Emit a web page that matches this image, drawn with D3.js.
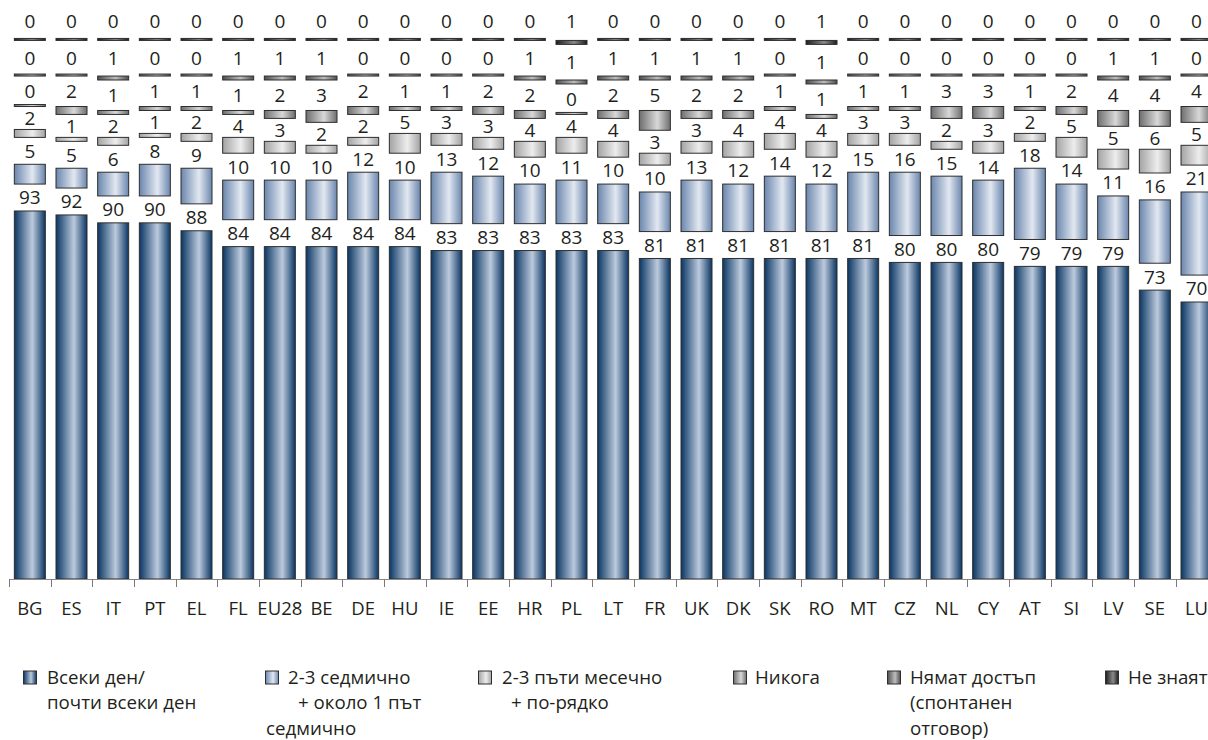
<!DOCTYPE html>
<html>
<head>
<meta charset="utf-8">
<script src="https://cdn.jsdelivr.net/npm/d3@7"></script>
<style>
  html, body { margin: 0; padding: 0; background: #fff; }
  svg { display: block; font-family: "Open Sans", "Noto Sans", sans-serif; }
</style>
</head>
<body>
<svg id="chart" width="1208" height="740"></svg>
<script>
// Countries, ordered by daily use
const categories = ["BG","ES","IT","PT","EL","FL","EU28","BE","DE","HU","IE","EE","HR","PL","LT",
  "FR","UK","DK","SK","RO","MT","CZ","NL","CY","AT","SI","LV","SE","LU"];

// Shares (%) for each answer, one value per country
const daily    = [93,92,90,90,88,84,84,84,84,84,83,83,83,83,83,81,81,81,81,81,81,80,80,80,79,79,79,73,70];
const weekly   = [5,5,6,8,9,10,10,10,12,10,13,12,10,11,10,10,13,12,14,12,15,16,15,14,18,14,11,16,21];
const monthly  = [2,1,2,1,2,4,3,2,2,5,3,3,4,4,4,3,3,4,4,4,3,3,2,3,2,5,5,6,5];
const never    = [0,2,1,1,1,1,2,3,2,1,1,2,2,0,2,5,2,2,1,1,1,1,3,3,1,2,4,4,4];
const noAccess = [0,0,1,0,0,1,1,1,0,0,0,0,1,1,1,1,1,1,0,1,0,0,0,0,0,0,1,1,0];
const dontKnow = [0,0,0,0,0,0,0,0,0,0,0,0,0,1,0,0,0,0,0,1,0,0,0,0,0,0,0,0,0];

const seriesNames = [
  ["Всеки ден/", "почти всеки ден"],
  ["2-3 седмично", "+ около 1 път", "седмично"],
  ["2-3 пъти месечно", "+ по-рядко"],
  ["Никога"],
  ["Нямат достъп", "(спонтанен", "отговор)"],
  ["Не знаят"]
];
const seriesValues = [daily, weekly, monthly, never, noAccess, dontKnow];

// Visual styling per series: edge / centre colours of the cylinder-like gradient
const palette = [
  { edge: "#0a3663", mid: "#bccadd" },
  { edge: "#6a86ad", mid: "#e2e8f1" },
  { edge: "#a3a3a3", mid: "#ededed" },
  { edge: "#6e6e6e", mid: "#d8d8d8" },
  { edge: "#4e4e4e", mid: "#bdbdbd" },
  { edge: "#1e1e1e", mid: "#8a8a8a" }
];
// Empty space (in value units) left above each segment for its label
const gapAbove = [6.8, 6.8, 5.8, 7.7, 9.0, 9.8];

const svg = d3.select("#chart");
const W = 1208, H = 740;

const defs = svg.append("defs");
palette.forEach((p, i) => {
  const g = defs.append("linearGradient").attr("id", "grad" + i)
    .attr("x1", "0%").attr("x2", "100%").attr("y1", "0%").attr("y2", "0%");
  g.append("stop").attr("offset", "0%").attr("stop-color", p.edge);
  g.append("stop").attr("offset", "58%").attr("stop-color", p.mid);
  g.append("stop").attr("offset", "100%").attr("stop-color", p.edge);
});

const x = d3.scaleBand()
  .domain(categories)
  .range([9, 9 + categories.length * 41.667])
  .paddingInner(0.256)
  .paddingOuter(0.128);

const y = d3.scaleLinear().domain([0, 140]).range([579, 25]);

// Build the stacked segments, each one lifted by the label gaps below it
const segments = [];
categories.forEach((c, ci) => {
  let base = 0;
  seriesValues.forEach((vals, si) => {
    const v = vals[ci];
    const bottom = base;
    const top = base + v;
    segments.push({ cat: c, series: si, value: v, bottom, top, labelAt: top + gapAbove[si] / 2 });
    base = top + gapAbove[si];
  });
});

const bars = svg.append("g");
bars.selectAll("rect").data(segments).join("rect")
  .attr("x", d => x(d.cat))
  .attr("width", x.bandwidth())
  .attr("y", d => {
    const h = y(d.bottom) - y(d.top);
    return h < 2 ? y(d.bottom) - 2 : y(d.top);
  })
  .attr("height", d => Math.max(2, y(d.bottom) - y(d.top)))
  .attr("fill", d => `url(#grad${d.series})`)
  .attr("stroke", "#2e2e2e")
  .attr("stroke-width", 1);

svg.append("g").selectAll("text").data(segments).join("text")
  .attr("x", d => x(d.cat) + x.bandwidth() / 2)
  .attr("y", d => y(d.labelAt))
  .attr("dy", "0.36em")
  .attr("text-anchor", "middle")
  .attr("font-size", 19)
  .attr("fill", "#231f20")
  .text(d => d.value);

// Category axis: labels under each bar, separator ticks between bars
const axisG = svg.append("g").attr("transform", `translate(0,${y(0)})`)
  .call(d3.axisBottom(x).tickSize(0).tickPadding(23));
axisG.select(".domain").remove();
axisG.selectAll("text")
  .attr("font-family", "Open Sans, Noto Sans, sans-serif")
  .attr("font-size", 18.5)
  .attr("fill", "#231f20");

const half = x.step() * x.paddingInner() / 2;
svg.append("line")
  .attr("x1", x(categories[0]) - half).attr("x2", W)
  .attr("y1", y(0) + 0.5).attr("y2", y(0) + 0.5)
  .attr("stroke", "#8a8a8a").attr("stroke-width", 1);
svg.append("g").selectAll("line").data(categories).join("line")
  .attr("x1", d => Math.round(x(d) - half) + 0.5)
  .attr("x2", d => Math.round(x(d) - half) + 0.5)
  .attr("y1", y(0)).attr("y2", y(0) + 8)
  .attr("stroke", "#7a7a7a").attr("stroke-width", 1);

// Legend
const legendX = [
  { box: 23, text: [47, 47] },
  { box: 265, text: [288, 298, 266] },
  { box: 478, text: [502, 511] },
  { box: 733, text: [755] },
  { box: 887, text: [910, 910, 910] },
  { box: 1105, text: [1128] }
];
const legendY = 677.5, lineStep = 25.2;
const legend = svg.append("g");
seriesNames.forEach((lines, i) => {
  const pos = legendX[i];
  legend.append("rect")
    .attr("x", pos.box + 0.5).attr("y", legendY - 6.5)
    .attr("width", 13).attr("height", 13)
    .attr("fill", `url(#grad${i})`)
    .attr("stroke", "#2e2e2e").attr("stroke-width", 1);
  lines.forEach((t, li) => {
    legend.append("text")
      .attr("x", pos.text[li])
      .attr("y", legendY + li * lineStep)
      .attr("dy", "0.36em")
      .attr("font-size", 18.7)
      .attr("fill", "#231f20")
      .text(t);
  });
});
</script>
</body>
</html>
